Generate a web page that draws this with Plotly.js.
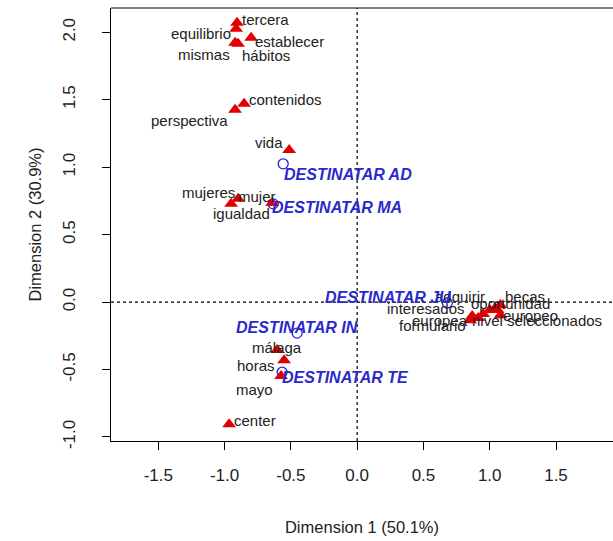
<!DOCTYPE html>
<html>
<head>
<meta charset="utf-8">
<script src="https://cdn.plot.ly/plotly-3.0.1.min.js"></script>
<style>html,body{margin:0;padding:0;background:#fff}#chart{width:613px;height:541px}</style>
</head>
<body>
<div id="chart"></div>
<script>
// Row points (words)
var rowLabels = ["tercera","equilibrio","establecer","mismas","hábitos","contenidos","perspectiva","vida",
  "mujeres","igualdad","mujer",
  "formulario","interesados","europea","nivel","adquirir","oportunidad","becas","europeo","seleccionados",
  "málaga","horas","mayo","center"];
var rowDim1 = [-0.906,-0.913,-0.800,-0.921,-0.898,-0.853,-0.921,-0.513,
  -0.898,-0.951,-0.641,
  0.853,0.868,0.913,0.951,1.000,1.040,1.080,1.060,1.080,
  -0.604,-0.551,-0.574,-0.966];
var rowDim2 = [2.071,2.026,1.960,1.923,1.915,1.470,1.425,1.128,
  0.765,0.728,0.735,
  -0.134,-0.104,-0.119,-0.089,-0.059,-0.045,-0.022,-0.059,-0.097,
  -0.356,-0.431,-0.549,-0.906];
// Column points (DESTINATAR)
var colLabels = ["DESTINATAR AD","DESTINATAR MA","DESTINATAR JU","DESTINATAR IN","DESTINATAR TE"];
var colDim1 = [-0.558,-0.634,0.680,-0.453,-0.566];
var colDim2 = [1.025,0.728,-0.007,-0.230,-0.520];
var axisTitles = ["Dimension 1 (50.1%)","Dimension 2 (30.9%)"];

// label placement styles (anchor, x shift px, y shift px)
var rowAnchor = ["left","right","left","right","left","left","right","right",
  "right","center","right",
  "right","right","right","center","right","center","left","left","left",
  "center","right","right","left"];
var rowShiftX = [3,-3,2,-3,2,3,-5,-4, -1,10,6, -2,-5,-8,4,-3,15,3,3,5, 0,-7,-6,3];
var rowShiftY = [3,-5,-4,-12,-12,4,-11,7, 6,-10,6, -5,8,-2,-6,14,5,9,-5,-5, 3,-5,-13,4];
var colAnchor = ["left","left","right","center","left"];
var colShiftX = [-1,-3,6,0,-2];
var colShiftY = [-11,-4,6,6,-5];

var labFam = 'Liberation Sans, Arial, sans-serif';
var annotations = [];
rowLabels.forEach(function(t,i){
  annotations.push({x:rowDim1[i], y:rowDim2[i], xref:'x', yref:'y', text:t, showarrow:false,
    xanchor:rowAnchor[i], yanchor:'middle', xshift:rowShiftX[i], yshift:rowShiftY[i],
    font:{family:labFam, size:15, color:'#222'}});
});
colLabels.forEach(function(t,i){
  annotations.push({x:colDim1[i], y:colDim2[i], xref:'x', yref:'y', text:'<b><i>'+t+'</i></b>', showarrow:false,
    xanchor:colAnchor[i], yanchor:'middle', xshift:colShiftX[i], yshift:colShiftY[i],
    font:{family:labFam, size:16, color:'#2a2acc'}});
});

var traces = [
  {x:colDim1, y:colDim2, type:'scatter', mode:'markers', hoverinfo:'skip',
   marker:{symbol:'circle-open', size:10, color:'#2222dd', line:{width:1.3, color:'#2222dd'}}, cliponaxis:false},
  {x:rowDim1, y:rowDim2, type:'scatter', mode:'markers', hoverinfo:'skip',
   marker:{symbol:'triangle-up', size:12, color:'#e00000', line:{width:0}}, cliponaxis:false}
];

var tickFont = {family:labFam, size:17, color:'#222'};
var layout = {
  width:613, height:541,
  margin:{l:111, r:0, t:8, b:100},
  paper_bgcolor:'#fff', plot_bgcolor:'#fff',
  showlegend:false,
  xaxis:{range:[-1.857,1.93], tickvals:[-1.5,-1,-0.5,0,0.5,1,1.5], ticktext:["-1.5","-1.0","-0.5","0.0","0.5","1.0","1.5"],
    showgrid:false, zeroline:false, showline:true, linecolor:'#000', linewidth:1.2,
    ticks:'outside', ticklen:8, tickcolor:'#000', tickfont:tickFont, ticklabelstandoff:10,
    title:{text:axisTitles[0], font:{family:labFam, size:16.5, color:'#222'}, standoff:37}},
  yaxis:{range:[-1.03,2.18], tickvals:[-1,-0.5,0,0.5,1,1.5,2], ticktext:["-1.0","-0.5","0.0","0.5","1.0","1.5","2.0"],
    showgrid:false, zeroline:false, showline:true, linecolor:'#000', linewidth:1.2,
    ticks:'outside', ticklen:8, tickcolor:'#000', tickfont:tickFont, tickangle:-90, ticklabelstandoff:20,
    title:{text:axisTitles[1], font:{family:labFam, size:16.5, color:'#222'}, standoff:14}},
  shapes:[
    {type:'line', xref:'paper', yref:'paper', x0:0, x1:1, y0:1, y1:1, line:{color:'#000', width:1.2}},
    {type:'line', xref:'x', yref:'paper', x0:0, x1:0, y0:0, y1:1, line:{color:'#000', width:1.2, dash:'dot'}, layer:'below'},
    {type:'line', xref:'paper', yref:'y', x0:0, x1:1, y0:0, y1:0, line:{color:'#000', width:1.2, dash:'dot'}, layer:'below'}
  ],
  annotations:annotations
};
Plotly.newPlot('chart', traces, layout, {staticPlot:true, displayModeBar:false});
</script>
</body>
</html>
